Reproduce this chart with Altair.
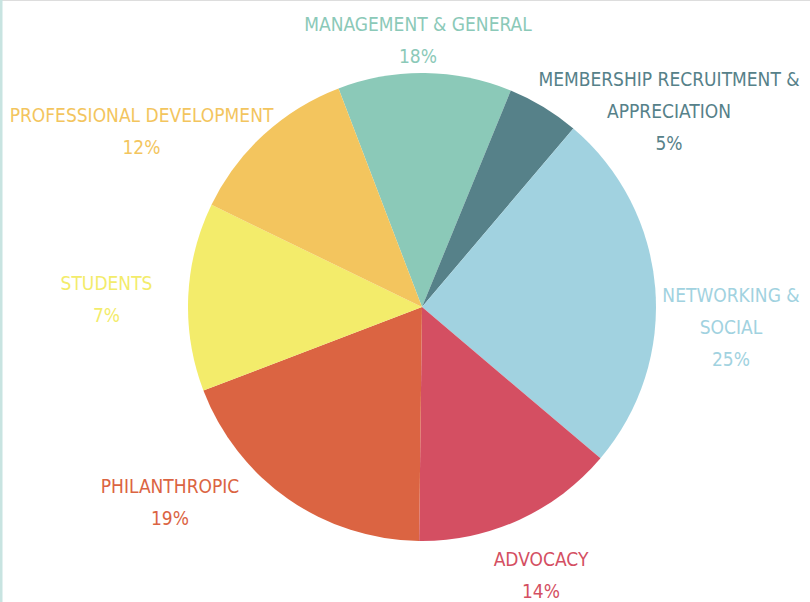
import altair as alt
import pandas as pd

# Slice sizes as drawn (share of the circle, %), clockwise from the top-left
categories = ["MANAGEMENT & GENERAL", "MEMBERSHIP RECRUITMENT & APPRECIATION",
              "NETWORKING & SOCIAL", "ADVOCACY", "PHILANTHROPIC", "STUDENTS",
              "PROFESSIONAL DEVELOPMENT"]
slice_values = [12, 5, 25, 14, 19, 13, 12]
# Percentages printed on the labels
label_pcts = ["18%", "5%", "25%", "14%", "19%", "7%", "12%"]
label_names = ["MANAGEMENT & GENERAL", "MEMBERSHIP RECRUITMENT &\nAPPRECIATION",
               "NETWORKING &\nSOCIAL", "ADVOCACY", "PHILANTHROPIC", "STUDENTS",
               "PROFESSIONAL DEVELOPMENT"]
colors = ["#8BC9B8", "#568189", "#A1D2E0", "#D44F62", "#DB6442", "#F3EC6B", "#F3C55E"]

pie_df = pd.DataFrame({"cat": categories, "value": slice_values,
                       "idx": list(range(len(categories)))})

# label layout (centre x, first-line baseline y)
lab_x = [418, 669, 731, 541, 170, 106.5, 141.5]
lab_y = [31, 86, 302, 566, 493, 290, 122]
lab_df = pd.DataFrame({"cat": categories,
                       "text": [n + "\n" + p for n, p in zip(label_names, label_pcts)],
                       "lx": lab_x, "ly": lab_y})

start = -0.3648
color_scale = alt.Scale(domain=categories, range=colors)

pie = alt.Chart(pie_df).mark_arc(outerRadius=234, stroke=None).encode(
    theta=alt.Theta("value:Q", stack=True,
                    scale=alt.Scale(range=[start, start + 6.283185])),
    order=alt.Order("idx:Q"),
    color=alt.Color("cat:N", scale=color_scale, legend=None),
    x=alt.value(422),
    y=alt.value(307),
)

labels = alt.Chart(lab_df).mark_text(
    font="DejaVu Sans Condensed, Roboto, sans-serif", fontSize=19,
    lineBreak="\n", lineHeight=32, align="center", baseline="alphabetic"
).encode(
    x=alt.X("lx:Q", scale=None, axis=None),
    y=alt.Y("ly:Q", scale=None, axis=None),
    text="text:N",
    color=alt.Color("cat:N", scale=color_scale, legend=None),
)

edge = alt.Chart(pd.DataFrame({"a": [0]})).mark_rect(
    color="#C8E4E1"
).encode(x=alt.value(0), x2=alt.value(2.5), y=alt.value(0), y2=alt.value(602))

chart = alt.layer(edge, pie, labels).properties(
    width=810, height=602, autosize=alt.AutoSizeParams(type="none"),
    padding=0
).configure_view(stroke=None, strokeWidth=0).configure(background="white")

chart.save("out.html", embed_options={"renderer": "svg", "actions": False})
